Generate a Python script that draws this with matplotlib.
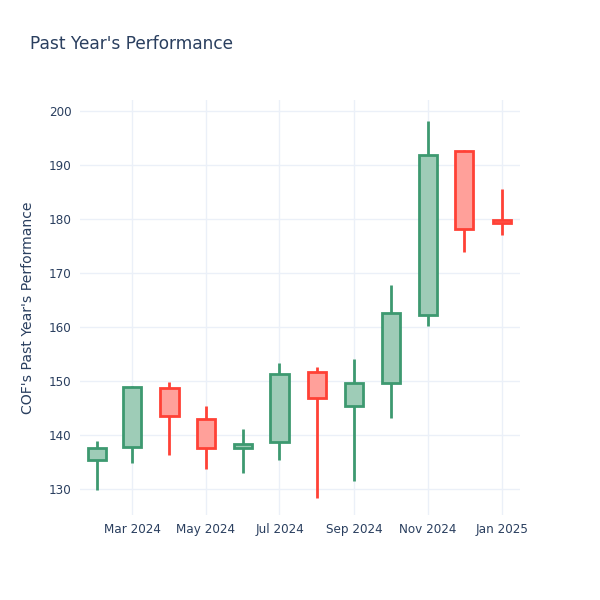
import numpy as np
import matplotlib.pyplot as plt
import matplotlib.dates as mdates
from datetime import datetime

plt.rcParams['font.family'] = ['DejaVu Sans']

# monthly candles, COF
dates = ['2024-02-01', '2024-03-01', '2024-04-01', '2024-05-01', '2024-06-01', '2024-07-01',
         '2024-08-01', '2024-09-01', '2024-10-01', '2024-11-01', '2024-12-01', '2025-01-01']
opens = [135.4, 137.8, 148.7, 143.0, 137.6, 138.7, 151.7, 145.4, 149.6, 162.2, 192.6, 179.8]
highs = [138.9, 149.1, 149.8, 145.4, 141.1, 153.3, 152.6, 154.1, 167.8, 198.1, 192.8, 185.6]
lows = [129.8, 134.8, 136.3, 133.7, 133.0, 135.4, 128.3, 131.5, 143.1, 160.2, 173.9, 177.0]
closes = [137.6, 148.9, 143.5, 137.6, 138.3, 151.3, 146.9, 149.6, 162.6, 191.9, 178.1, 179.3]

inc_line = '#3D9970'
dec_line = '#FF4136'
inc_fill = '#9ECCB7'
dec_fill = '#FFA09A'
text_col = '#2a3f5f'
grid_col = '#EBF0F8'

fig = plt.figure(figsize=(6, 6), dpi=100)
ax = fig.add_axes([80 / 600, 85 / 600, 440 / 600, 415 / 600])

x = mdates.date2num([datetime.strptime(d, '%Y-%m-%d') for d in dates])
width = 15

for xi, o, h, l, c in zip(x, opens, highs, lows, closes):
    up = c >= o
    lc = inc_line if up else dec_line
    fc = inc_fill if up else dec_fill
    top, bot = max(o, c), min(o, c)
    ax.plot([xi, xi], [top, h], color=lc, lw=2, solid_capstyle='butt', zorder=3)
    ax.plot([xi, xi], [l, bot], color=lc, lw=2, solid_capstyle='butt', zorder=3)
    ax.bar(xi, top - bot, bottom=bot, width=width, facecolor=fc, edgecolor=lc,
           linewidth=2, zorder=3)

ax.set_xlim(mdates.date2num(datetime(2024, 1, 18)), mdates.date2num(datetime(2025, 1, 16)))
ax.set_ylim(125.2, 202.0)
ax.set_yticks(np.arange(130, 201, 10))
ax.xaxis.set_major_locator(mdates.MonthLocator(bymonth=[1, 3, 5, 7, 9, 11]))
ax.xaxis.set_major_formatter(mdates.DateFormatter('%b %Y'))

for s in ax.spines.values():
    s.set_visible(False)
ax.grid(True, color=grid_col, lw=1, zorder=0)
ax.set_axisbelow(True)
ax.tick_params(length=0, labelsize=8.64, colors=text_col, pad=6)

fig.text(30 / 600, 1 - 44 / 600, "Past Year's Performance", fontsize=12.24,
         color=text_col, va='center', ha='left')
fig.text(28 / 600, 1 - 308 / 600, "COF's Past Year's Performance", fontsize=10.08,
         color=text_col, va='center', ha='center', rotation=90)

fig.savefig('out.png', dpi=100, facecolor='white')
